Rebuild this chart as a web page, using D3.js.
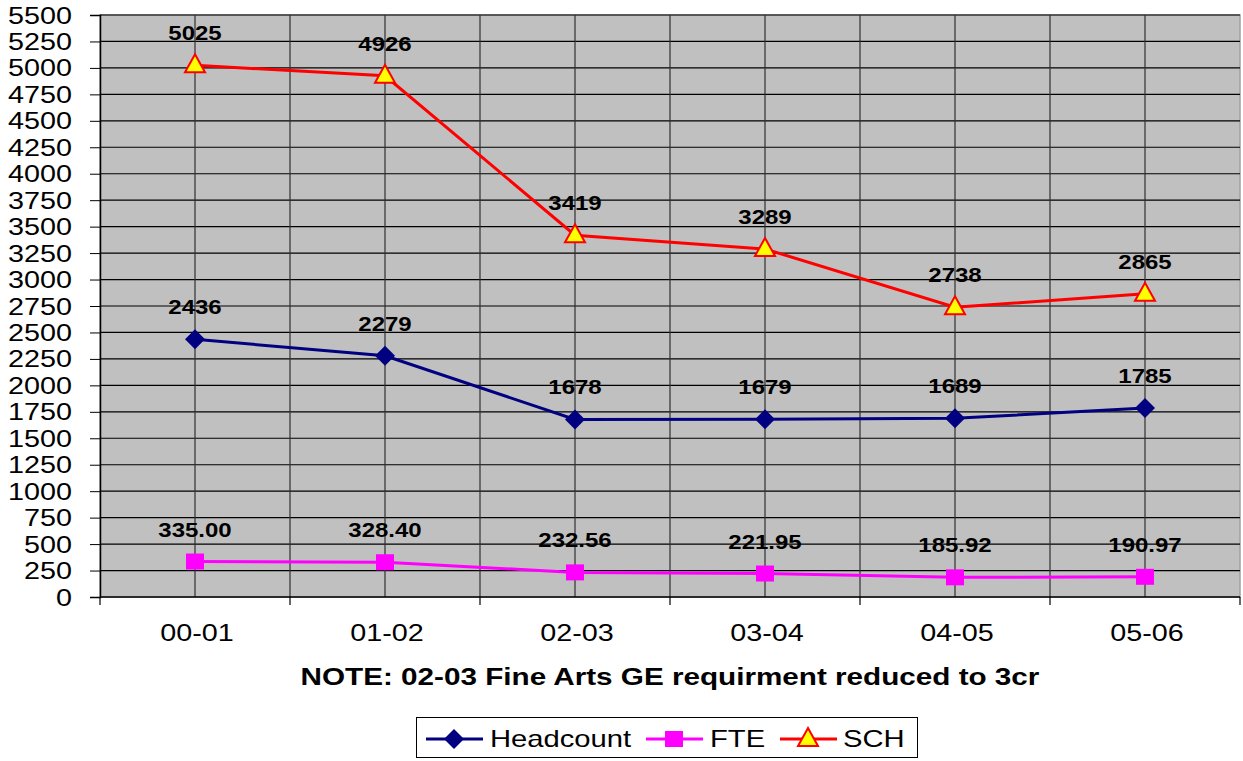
<!DOCTYPE html>
<html><head><meta charset="utf-8">
<script src="https://cdn.jsdelivr.net/npm/d3@7"></script>
<style>body{margin:0;background:#fff;} svg{display:block;font-family:"Liberation Sans",Arial,sans-serif;}</style>
</head><body>
<svg id="c" width="1243" height="761"></svg>
<script>
const categories = ["00-01","01-02","02-03","03-04","04-05","05-06"];
const headcount = [2436,2279,1678,1679,1689,1785];
const fte = [335.00,328.40,232.56,221.95,185.92,190.97];
const sch = [5025,4926,3419,3289,2738,2865];
const headcountLabels = ["2436","2279","1678","1679","1689","1785"];
const fteLabels = ["335.00","328.40","232.56","221.95","185.92","190.97"];
const schLabels = ["5025","4926","3419","3289","2738","2865"];
const yTicks = d3.range(0, 5501, 250);
const noteText = "NOTE: 02-03 Fine Arts GE requirment reduced to 3cr";

const svg = d3.select("#c");
const L=100, R=1240, T=15, B=597;
const SX = 1.25;
const x = d3.scaleBand().domain(categories).range([L,R]);
const y = d3.scaleLinear().domain([0,5500]).range([B,T]);
const cx = c => x(c)+x.bandwidth()/2;

function stxt(parent, px, py, str, size, anchor, bold, sx){
  return parent.append("text").attr("transform",`translate(${px},${py}) scale(${sx||SX},1)`)
    .attr("text-anchor",anchor).attr("font-size",size).attr("font-weight",bold?"bold":"normal")
    .attr("fill","#000").text(str);
}

svg.append("rect").attr("x",L).attr("y",T).attr("width",R-L).attr("height",B-T)
  .attr("fill","#c0c0c0").attr("stroke","#a0a0a0").attr("stroke-width",1.5);

// horizontal grid
svg.append("g").selectAll("line").data(yTicks.filter(d=>d>0)).join("line")
  .attr("x1",L).attr("x2",R).attr("y1",d=>y(d)).attr("y2",d=>y(d))
  .attr("stroke","#000").attr("stroke-width",1.2);
// vertical grid: boundaries and centers
const bounds = categories.slice(1).map(c=>x(c));
svg.append("g").selectAll("line").data(bounds.concat(categories.map(cx))).join("line")
  .attr("x1",d=>d).attr("x2",d=>d).attr("y1",T).attr("y2",B)
  .attr("stroke","#303030").attr("stroke-width",1.2);

// y axis
const ya = d3.axisLeft(y).tickValues(yTicks).tickSize(10).tickFormat(d3.format("d"));
const gy = svg.append("g").attr("transform",`translate(${L},0)`).call(ya);
gy.select(".domain").attr("stroke","#000").attr("stroke-width",1.5);
gy.selectAll(".tick line").attr("stroke","#000");
gy.selectAll(".tick text").remove();
gy.selectAll(".tick").each(function(d){
  stxt(d3.select(this), -28, 8, String(d), 23, "end", false);
});

// x axis
const xb = d3.scaleLinear().domain([0,6]).range([L,R]);
const gx = svg.append("g").attr("transform",`translate(0,${B})`);
gx.append("line").attr("x1",L).attr("x2",R).attr("stroke","#000").attr("stroke-width",1.5);
gx.selectAll(".tk").data(d3.range(0,7)).join("line").attr("class","tk")
  .attr("x1",d=>xb(d)).attr("x2",d=>xb(d)).attr("y1",0).attr("y2",8).attr("stroke","#000").attr("stroke-width",1.2);
categories.forEach(c=>stxt(gx, cx(c)+2, 44, c, 23, "middle", false));

stxt(svg, (L+R)/2, 685, noteText, 23, "middle", true, 1.29);

const series = [
  {name:"Headcount", vals:headcount, labels:headcountLabels, color:"#000080", marker:"diamond"},
  {name:"FTE", vals:fte, labels:fteLabels, color:"#ff00ff", marker:"square"},
  {name:"SCH", vals:sch, labels:schLabels, color:"#ff0000", marker:"triangle"}
];
function drawMarker(g, type, color){
  if(type==="diamond") g.append("path").attr("d","M0,-10L10,0L0,10L-10,0Z").attr("fill",color);
  else if(type==="square") g.append("rect").attr("x",-9).attr("y",-8).attr("width",18).attr("height",16).attr("fill",color);
  else g.append("path").attr("d","M0,-11L10,7L-10,7Z").attr("fill","#ffff00").attr("stroke","#ff0000").attr("stroke-width",2);
}
const line = d3.line().x((d,i)=>cx(categories[i])).y(d=>y(d));
series.forEach(s=>{
  svg.append("path").datum(s.vals).attr("d",line).attr("fill","none").attr("stroke",s.color).attr("stroke-width",3);
  s.vals.forEach((v,i)=>{
    const g = svg.append("g").attr("transform",`translate(${cx(categories[i])},${y(v)})`);
    drawMarker(g,s.marker,s.color);
  });
  s.vals.forEach((v,i)=>{
    stxt(svg, cx(categories[i]), y(v)-25, s.labels[i], 20, "middle", true, 1.2);
  });
});

// legend
const lg = svg.append("g");
lg.append("rect").attr("x",416.5).attr("y",717.5).attr("width",501).attr("height",40).attr("fill","#fff").attr("stroke","#000").attr("stroke-width",1);
const items = [{x:426, tx:490},{x:646, tx:710},{x:780, tx:843}];
series.forEach((s,i)=>{
  const it = items[i], ly = 739;
  lg.append("line").attr("x1",it.x).attr("x2",it.x+57).attr("y1",ly).attr("y2",ly).attr("stroke",s.color).attr("stroke-width",3);
  drawMarker(lg.append("g").attr("transform",`translate(${it.x+28},${ly})`), s.marker, s.color);
  stxt(lg, it.tx, ly+8, s.name, 23, "start", false, 1.27);
});
</script>
</body></html>
